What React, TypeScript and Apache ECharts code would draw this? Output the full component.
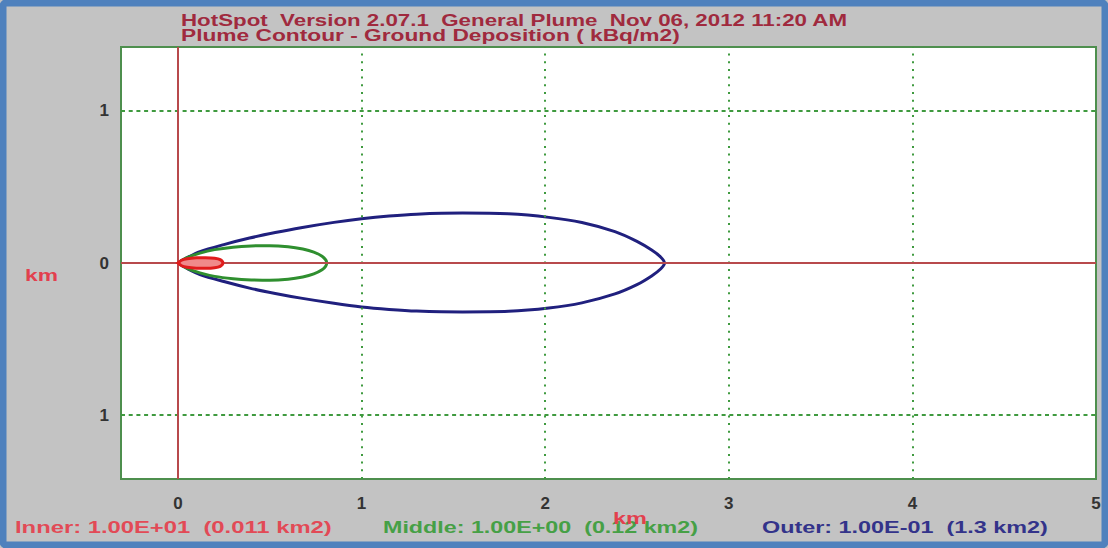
import React, { useEffect, useRef } from "react";
import * as echarts from "echarts";

// ---- data (km) ----
const xTicks = [0, 1, 2, 3, 4, 5];
const yTicks = [-1, 0, 1];
const xGrid = [1, 2, 3, 4];
const yGrid = [-1, 1];

const innerUpper = [[0, 0], [0.02, 0.018], [0.05, 0.028], [0.1, 0.034], [0.15, 0.035], [0.2, 0.031], [0.23, 0.022], [0.245, 0]];
const innerLower = [[0.23, -0.022], [0.2, -0.031], [0.15, -0.035], [0.1, -0.034], [0.05, -0.028], [0.02, -0.018], [0, 0]];

const middleUpper = [[0, 0], [0.05, 0.035], [0.12, 0.065], [0.2, 0.088], [0.3, 0.104], [0.4, 0.112], [0.5, 0.114], [0.6, 0.107], [0.68, 0.092], [0.74, 0.072], [0.785, 0.045], [0.805, 0.02], [0.81, 0]];
const middleLower = [[0.805, -0.02], [0.785, -0.045], [0.74, -0.072], [0.68, -0.092], [0.6, -0.107], [0.5, -0.114], [0.4, -0.111], [0.3, -0.103], [0.2, -0.088], [0.12, -0.065], [0.05, -0.035], [0, 0]];

const outerUpper = [[0, 0], [0.05, 0.035], [0.12, 0.075], [0.25, 0.121], [0.39, 0.164], [0.53, 0.2], [0.67, 0.232], [0.85, 0.267], [1.0, 0.291], [1.15, 0.309], [1.3, 0.321], [1.55, 0.328], [1.8, 0.323], [2.02, 0.3], [2.2, 0.266], [2.38, 0.206], [2.5, 0.142], [2.58, 0.085], [2.63, 0.038], [2.65, 0]];
const outerLower = [[2.63, -0.038], [2.58, -0.085], [2.5, -0.142], [2.38, -0.203], [2.2, -0.262], [2.02, -0.296], [1.8, -0.318], [1.55, -0.322], [1.3, -0.316], [1.15, -0.305], [1.0, -0.289], [0.85, -0.265], [0.67, -0.231], [0.53, -0.2], [0.39, -0.165], [0.25, -0.122], [0.12, -0.076], [0.05, -0.036], [0, 0]];

const titleLine1 = "HotSpot  Version 2.07.1  General Plume  Nov 06, 2012 11:20 AM";
const titleLine2 = "Plume Contour - Ground Deposition ( kBq/m2)";
const legendInner = "Inner: 1.00E+01  (0.011 km2)";
const legendMiddle = "Middle: 1.00E+00  (0.12 km2)";
const legendOuter = "Outer: 1.00E-01  (1.3 km2)";
const axisUnit = "km";

const FONT_FAMILY = '"Liberation Sans", Arial, sans-serif';

function fitScale(text: string, size: number, weight: string, target: number) {
  const ctx = document.createElement("canvas").getContext("2d");
  if (!ctx) return 1;
  ctx.font = `${weight} ${size}px ${FONT_FAMILY}`;
  const w = ctx.measureText(text).width;
  return w > 0 ? target / w : 1;
}

function stretchedText(text: string, x: number, y: number, size: number, color: string, target: number, align = "left") {
  return {
    type: "text",
    x,
    y,
    scaleX: fitScale(text, size, "bold", target),
    z: 10,
    style: {
      text,
      x: 0,
      y: 0,
      fill: color,
      font: `bold ${size}px ${FONT_FAMILY}`,
      align,
      verticalAlign: "middle",
    },
  };
}

export default function App() {
  const ref = useRef<HTMLDivElement>(null);

  useEffect(() => {
    document.body.style.margin = "0";
    if (!ref.current) return;
    const chart = echarts.init(ref.current, undefined, { renderer: "svg" });

    const gridGreen = "#3f9a3f";
    const axisRed = "#b84a4c";

    const option: any = {
      animation: false,
      backgroundColor: "#c3c3c3",
      grid: {
        left: 121,
        top: 47,
        width: 975,
        height: 432,
        show: true,
        backgroundColor: "#ffffff",
        borderColor: "#4e8f4e",
        borderWidth: 2,
      },
      xAxis: {
        type: "value",
        min: -0.31,
        max: 5.0,
        axisLine: { show: false },
        axisTick: { show: false },
        splitLine: { show: false },
        axisLabel: {
          customValues: xTicks,
          margin: 16,
          color: "#333333",
          fontWeight: "bold",
          fontSize: 17,
          fontFamily: FONT_FAMILY,
        },
      },
      yAxis: {
        type: "value",
        min: -1.42,
        max: 1.42,
        axisLine: { show: false },
        axisTick: { show: false },
        splitLine: { show: false },
        axisLabel: {
          customValues: yTicks,
          margin: 12,
          padding: [8, 0, 0, 0],
          color: "#333333",
          fontWeight: "bold",
          fontSize: 17,
          fontFamily: FONT_FAMILY,
          formatter: (v: number) => String(Math.abs(v)),
        },
      },
      series: [
        {
          type: "line",
          name: "grid",
          data: [[0, 0]],
          symbol: "none",
          showSymbol: false,
          lineStyle: { opacity: 0 },
          z: 1,
          silent: true,
          markLine: {
            silent: true,
            symbol: ["none", "none"],
            label: { show: false },
            animation: false,
            data: [
              ...xGrid.map((v) => ({ xAxis: v, lineStyle: { color: gridGreen, width: 2, type: [2, 5.7] } })),
              ...yGrid.map((v) => ({ yAxis: v, lineStyle: { color: gridGreen, width: 2, type: [4, 3.7] } })),
              { xAxis: 0, lineStyle: { color: axisRed, width: 2, type: "solid" } },
              { yAxis: 0, lineStyle: { color: axisRed, width: 2, type: "solid" } },
            ],
          },
        },
        {
          type: "line",
          name: "Outer",
          data: [...outerUpper, ...outerLower],
          symbol: "none",
          smooth: 0.3,
          z: 3,
          lineStyle: { color: "#20207e", width: 3 },
        },
        {
          type: "line",
          name: "Middle",
          data: [...middleUpper, ...middleLower],
          symbol: "none",
          smooth: 0.3,
          z: 4,
          lineStyle: { color: "#2f8f2f", width: 3 },
        },
        {
          type: "custom",
          name: "Inner",
          z: 5,
          data: [[0, 0]],
          renderItem: (_params: any, api: any) => {
            const pts = [...innerUpper, ...innerLower].map((p) => api.coord(p));
            return {
              type: "polygon",
              shape: { points: pts, smooth: 0.3 },
              style: { fill: "#f08a8a", stroke: "#e01c1c", lineWidth: 3 },
            };
          },
        },
      ],
      graphic: [
        {
          type: "rect",
          z: 20,
          silent: true,
          shape: { x: 3, y: 3, width: 1102, height: 542, r: 3 },
          style: { fill: "none", stroke: "#4f81bd", lineWidth: 7 },
        },
        stretchedText(titleLine1, 181, 20, 17, "#a02a3e", 667),
        stretchedText(titleLine2, 181, 35.5, 17, "#a02a3e", 499),
        stretchedText(legendInner, 15, 527.5, 16, "#e24a56", 317),
        stretchedText(legendMiddle, 383, 527.5, 16, "#46a046", 315),
        stretchedText(legendOuter, 762, 527.5, 16, "#33338a", 286),
        stretchedText(axisUnit, 25, 275, 17, "#e2404e", 33),
        stretchedText(axisUnit, 613, 518, 17, "#e2404e", 34),
      ],
    };

    chart.setOption(option);
    return () => chart.dispose();
  }, []);

  return <div ref={ref} style={{ width: 1108, height: 548 }} />;
}
